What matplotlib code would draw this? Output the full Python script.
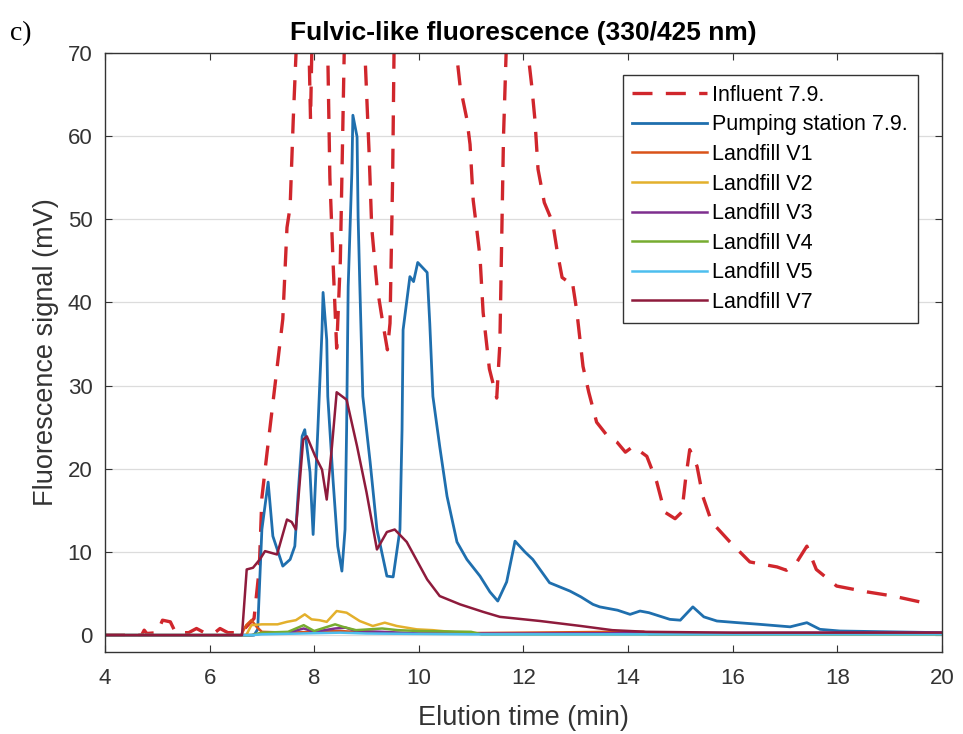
import matplotlib
matplotlib.use('Agg')
import matplotlib.pyplot as plt

# Influent 7.9. (peaks above 70 run off the top of the axes)
inf_t = [4.0, 4.7, 4.75, 4.8, 5.0, 5.1, 5.25, 5.35, 5.6, 5.75, 5.9, 6.1, 6.2, 6.35, 6.6,
         6.85, 6.95, 7.0, 7.1, 7.25, 7.4, 7.48, 7.54, 7.6, 7.66, 7.8, 7.9, 7.93, 7.96, 8.1,
         8.26, 8.3, 8.36, 8.43, 8.5, 8.58, 8.75, 8.97, 9.05, 9.1, 9.2, 9.3, 9.4, 9.45, 9.5,
         9.53, 10.1, 10.72, 10.79, 10.92, 10.98, 11.04, 11.11, 11.17, 11.23, 11.35, 11.49,
         11.55, 11.62, 11.68, 11.9, 12.07, 12.16, 12.22, 12.28, 12.4, 12.56, 12.65, 12.74,
         12.85, 12.93, 13.02, 13.14, 13.25, 13.4, 13.6, 13.79, 13.95, 14.1, 14.36, 14.55,
         14.7, 14.9, 15.03, 15.1, 15.18, 15.32, 15.43, 15.6, 15.95, 16.33, 16.85, 17.03,
         17.23, 17.42, 17.6, 17.99, 18.57, 19.07, 19.58, 19.75]
inf_y = [0.0, 0.0, 0.6, 0.2, 0.3, 1.8, 1.6, 0.3, 0.3, 0.8, 0.3, 0.3, 0.8, 0.3, 0.3,
         2.0, 8.0, 16.5, 22.0, 30.0, 38.0, 49.0, 51.5, 62.0, 71.0, 85.0, 71.0, 62.0, 72.0, 90.0,
         70.0, 55.0, 45.0, 34.5, 45.0, 72.0, 110.0, 70.0, 58.0, 49.0, 42.0, 38.0, 34.3, 37.5, 55.0,
         72.0, 120.0, 70.0, 66.0, 62.0, 59.0, 52.3, 48.7, 45.5, 38.8, 32.0, 28.5,
         35.0, 60.0, 72.0, 100.0, 71.0, 66.0, 62.0, 56.0, 52.0, 49.6, 46.0, 43.0,
         42.5, 42.7, 39.0, 32.3, 29.2, 25.6, 24.0, 23.2, 22.0, 22.7, 21.5, 18.4,
         14.8, 14.0, 14.8, 18.7, 22.3, 20.3, 16.7, 13.6, 11.2, 8.8, 8.2, 7.8,
         8.8, 10.7, 7.9, 5.9, 5.2, 4.7, 4.0, 3.9]

# Pumping station 7.9.
pump_t = [4.0, 6.85, 6.92, 7.0, 7.12, 7.21, 7.4, 7.54, 7.63, 7.69, 7.77, 7.82, 7.92, 7.98,
          8.07, 8.15, 8.17, 8.24, 8.26, 8.36, 8.45, 8.53, 8.59, 8.62, 8.65, 8.72, 8.74, 8.82,
          8.84, 8.87, 8.93, 9.07, 9.2, 9.39, 9.51, 9.64, 9.68, 9.7, 9.83, 9.9, 9.98, 10.16,
          10.21, 10.27, 10.4, 10.54, 10.73, 10.92, 11.17, 11.36, 11.51, 11.68, 11.84, 12.03,
          12.18, 12.5, 12.89, 13.1, 13.33, 13.46, 13.8, 14.04, 14.23, 14.4, 14.8, 15.0,
          15.24, 15.45, 15.7, 16.1, 16.52, 17.1, 17.42, 17.67, 18.05, 19.0, 20.0]
pump_y = [0.0, 0.0, 0.7, 12.7, 18.4, 11.9, 8.3, 9.1, 10.7, 16.7, 23.9, 24.7, 19.6, 12.1,
          24.7, 36.7, 41.2, 35.5, 28.7, 18.7, 10.7, 7.7, 12.7, 24.7, 41.9, 55.6, 62.5, 59.9,
          50.3, 42.7, 28.7, 20.8, 12.7, 7.1, 7.0, 12.7, 24.7, 36.7, 43.1, 42.5, 44.8, 43.6,
          37.5, 28.7, 22.7, 16.7, 11.2, 9.1, 7.1, 5.2, 4.1, 6.4, 11.3, 10.0,
          9.1, 6.3, 5.3, 4.6, 3.7, 3.4, 3.0, 2.5, 2.9, 2.7, 1.9, 1.8,
          3.4, 2.2, 1.7, 1.5, 1.3, 1.0, 1.5, 0.7, 0.5, 0.4, 0.3]

# Landfill samples
v1_t = [4.0, 6.6, 6.7, 6.8, 6.9, 7.0, 7.5, 8.0, 8.5, 9.0, 10.0, 12.0, 13.8, 14.3, 14.4, 20.0]
v1_y = [0.0, 0.0, 1.2, 1.8, 1.0, 0.4, 0.3, 0.4, 0.5, 0.3, 0.2, 0.3, 0.4, 0.4, 0.1, 0.1]

v2_t = [4.0, 6.7, 6.8, 7.0, 7.3, 7.48, 7.65, 7.82, 7.95, 8.1, 8.24, 8.43, 8.62, 8.87,
        9.12, 9.35, 9.58, 9.96, 10.27, 10.6, 11.0, 20.0]
v2_y = [0.0, 0.0, 1.2, 1.3, 1.3, 1.6, 1.8, 2.5, 1.9, 1.8, 1.6, 2.9, 2.7, 1.7,
        1.1, 1.5, 1.1, 0.7, 0.6, 0.4, 0.2, 0.1]

v3_t = [4.0, 6.8, 7.0, 7.5, 7.8, 8.0, 8.4, 8.6, 8.8, 9.3, 10.0, 12.0, 18.0, 20.0]
v3_y = [0.0, 0.0, 0.2, 0.3, 0.8, 0.4, 0.8, 0.9, 0.5, 0.4, 0.2, 0.2, 0.3, 0.3]

v4_t = [4.0, 6.8, 7.0, 7.5, 7.8, 8.0, 8.4, 8.55, 8.8, 9.3, 9.6, 10.0, 11.0, 11.2, 20.0]
v4_y = [0.0, 0.0, 0.3, 0.4, 1.2, 0.5, 1.3, 1.0, 0.6, 0.8, 0.6, 0.5, 0.4, 0.1, 0.1]

v5_t = [4.0, 6.8, 7.0, 8.5, 9.0, 11.0, 20.0]
v5_y = [0.0, 0.0, 0.1, 0.3, 0.2, 0.1, 0.1]

v7_t = [4.0, 6.62, 6.71, 6.83, 6.96, 7.06, 7.29, 7.48, 7.57, 7.65, 7.79, 7.86, 8.02, 8.15,
        8.24, 8.34, 8.43, 8.62, 8.82, 9.0, 9.2, 9.39, 9.54, 9.77, 10.16, 10.4, 10.79,
        11.23, 11.55, 12.32, 13.1, 13.7, 14.36, 16.0, 20.0]
v7_y = [0.0, 0.0, 7.9, 8.1, 9.1, 10.1, 9.7, 13.9, 13.6, 12.7, 23.5, 23.9, 21.5, 19.9,
        16.3, 22.7, 29.2, 28.3, 22.7, 17.2, 10.3, 12.4, 12.7, 11.2, 6.7, 4.7, 3.7,
        2.8, 2.2, 1.7, 1.1, 0.6, 0.4, 0.3, 0.3]

plt.rcParams['font.family'] = ['Liberation Sans', 'DejaVu Sans']

fig = plt.figure(figsize=(9.63, 7.34), dpi=100)
ax = fig.add_axes([0.109, 0.112, 0.869, 0.816])

ax.plot(inf_t, inf_y, color='#d0262c', lw=2.4, ls=(0, (6, 4)), label='Influent 7.9.')
ax.plot(pump_t, pump_y, color='#1f6fae', lw=2.0, label='Pumping station 7.9.')
ax.plot(v1_t, v1_y, color='#d95319', lw=1.8, label='Landfill V1')
ax.plot(v2_t, v2_y, color='#e3b02c', lw=1.8, label='Landfill V2')
ax.plot(v3_t, v3_y, color='#7e2f8e', lw=1.8, label='Landfill V3')
ax.plot(v4_t, v4_y, color='#77ac30', lw=1.8, label='Landfill V4')
ax.plot(v5_t, v5_y, color='#4dbeee', lw=1.8, label='Landfill V5')
ax.plot(v7_t, v7_y, color='#8e1b3c', lw=1.8, label='Landfill V7')

ax.set_xlim(4, 20)
ax.set_ylim(-2, 70)
ax.set_xticks(range(4, 21, 2))
ax.set_yticks(range(0, 71, 10))
ax.yaxis.grid(True, color='#dcdcdc', lw=0.9)
ax.set_axisbelow(True)
ax.tick_params(direction='in', top=True, right=True, length=5, labelsize=16,
               labelcolor='#333333', color='#333333')
ax.tick_params(axis='x', pad=12)
ax.tick_params(axis='y', pad=9)
for s in ax.spines.values():
    s.set_color('#333333')
    s.set_linewidth(1.0)

ax.set_xlabel('Elution time (min)', fontsize=19.5, color='#333333', labelpad=11)
ax.set_ylabel('Fluorescence signal (mV)', fontsize=19.5, color='#333333', labelpad=6)
ax.set_title('Fulvic-like fluorescence (330/425 nm)', fontsize=19, fontweight='bold', pad=9)
fig.text(0.010, 0.945, 'c)', fontsize=20, family='Liberation Serif')

ax.legend(loc='upper right', bbox_to_anchor=(0.971, 0.963), fontsize=15.5, frameon=True,
          fancybox=False, edgecolor='#333333', framealpha=1, handlelength=3.45,
          handletextpad=0.25, labelspacing=0.4, borderpad=0.45, borderaxespad=0)

fig.savefig('out.png', dpi=100)
